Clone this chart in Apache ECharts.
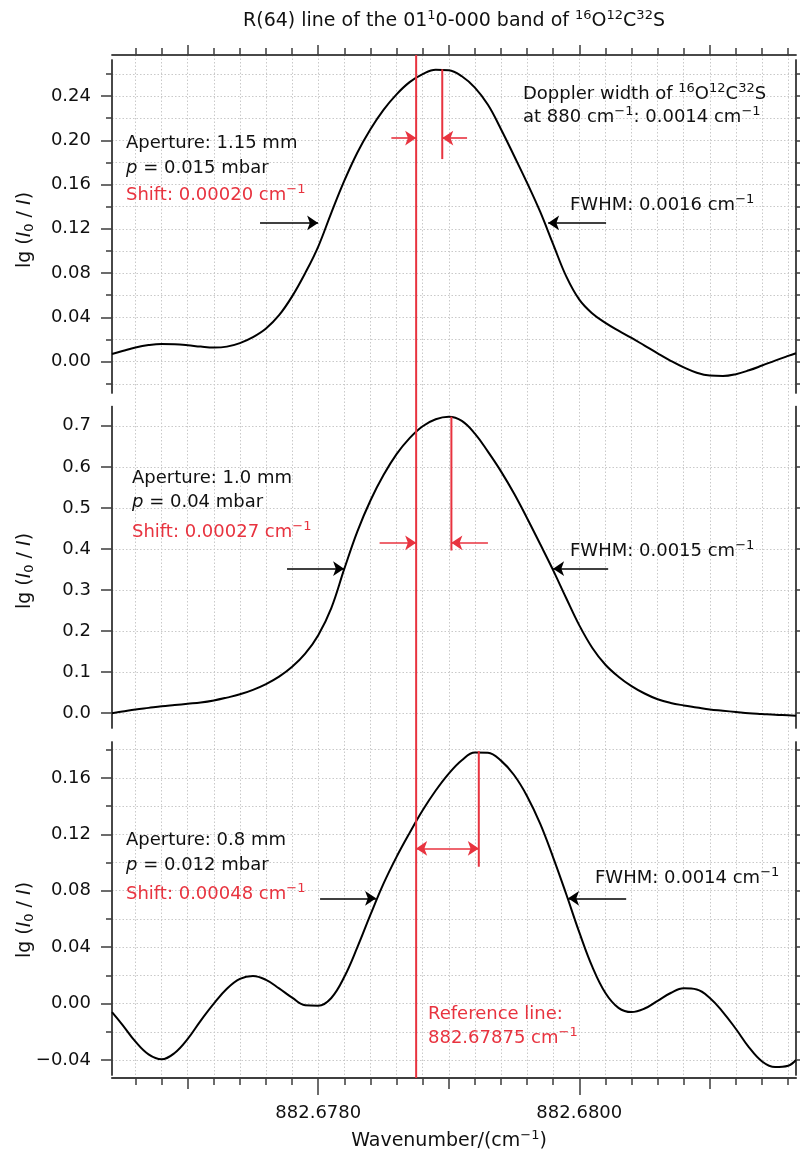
<!DOCTYPE html>
<html>
<head>
<meta charset="utf-8">
<script src="https://cdn.jsdelivr.net/npm/echarts@6/dist/echarts.min.js"></script>
<style>
  html, body { margin: 0; padding: 0; background: #fff; }
  #chart { width: 800px; height: 1153px; }
</style>
</head>
<body>
<div id="chart"></div>
<script>
// ---- wavenumber scale (cm^-1) ----
const xMin = 882.67642;
const xMax = 882.68166;
const xLabelTicks = [882.6780, 882.6800];
const xMidTicks = [882.677, 882.678, 882.679, 882.680, 882.681];

// sample positions shared by the three spectra
const wavenumbers = [
  882.67642, 882.6765, 882.6766, 882.6767, 882.6768, 882.6769, 882.6770, 882.6771, 882.6772, 882.6773,
  882.6774, 882.6775, 882.6776, 882.6777, 882.6778, 882.6779, 882.6780, 882.6781, 882.6782, 882.6783,
  882.6784, 882.6785, 882.6786, 882.6787, 882.6788, 882.6789, 882.6790, 882.6791, 882.6792, 882.6793,
  882.6794, 882.6795, 882.6796, 882.6797, 882.6798, 882.6799, 882.6800, 882.6801, 882.6802, 882.6803,
  882.6804, 882.6805, 882.6806, 882.6807, 882.6808, 882.6809, 882.6810, 882.6811, 882.6812, 882.6813,
  882.6814, 882.6815, 882.6816, 882.68166
];

// lg(I0/I), aperture 1.15 mm
const absorbance1 = [
  0.0070, 0.0096, 0.0128, 0.0150, 0.0160, 0.0157, 0.0148, 0.0136, 0.0128, 0.0136,
  0.0168, 0.0222, 0.0300, 0.0420, 0.0590, 0.0800, 0.1040, 0.1345, 0.1635, 0.1890,
  0.2100, 0.2275, 0.2415, 0.2525, 0.2598, 0.2637, 0.2633, 0.2578, 0.2475, 0.2320,
  0.2100, 0.1860, 0.1615, 0.1355, 0.1060, 0.0770, 0.0560, 0.0435, 0.0350, 0.0280,
  0.0215, 0.0145, 0.0075, 0.0008, -0.0052, -0.0100, -0.0126, -0.0130, -0.0113, -0.0078,
  -0.0035, 0.0010, 0.0052, 0.0076
];
// lg(I0/I), aperture 1.0 mm
const absorbance2 = [
  0.000, 0.004, 0.009, 0.013, 0.017, 0.020, 0.023, 0.026, 0.031, 0.038,
  0.046, 0.057, 0.071, 0.089, 0.113, 0.145, 0.190, 0.256, 0.352, 0.443,
  0.518, 0.580, 0.631, 0.670, 0.699, 0.716, 0.722, 0.712, 0.681, 0.637,
  0.589, 0.535, 0.475, 0.412, 0.348, 0.280, 0.214, 0.159, 0.118, 0.089,
  0.066, 0.048, 0.034, 0.025, 0.019, 0.014, 0.009, 0.006, 0.003, 0.000,
  -0.002, -0.004, -0.005, -0.006
];
// lg(I0/I), aperture 0.8 mm
const absorbance3 = [
  -0.0060, -0.0150, -0.0270, -0.0360, -0.0395, -0.0350, -0.0250, -0.0120, 0.0000, 0.0105,
  0.0175, 0.0195, 0.0168, 0.0108, 0.0042, -0.0012, -0.0015, 0.0040, 0.0190, 0.0400,
  0.0630, 0.0850, 0.1040, 0.1210, 0.1370, 0.1510, 0.1630, 0.1725, 0.1780, 0.1778,
  0.1722, 0.1620, 0.1470, 0.1275, 0.1035, 0.0775, 0.0505, 0.0260, 0.0075, -0.0030,
  -0.0060, -0.0035, 0.0020, 0.0075, 0.0108, 0.0100, 0.0040, -0.0060, -0.0180, -0.0310,
  -0.0410, -0.0450, -0.0440, -0.0400
];

// ---- per-panel y scales ----
const yRanges = [[-0.0283, 0.2725], [-0.036, 0.747], [-0.0506, 0.1854]];
const yLabelTicks1 = [0.00, 0.04, 0.08, 0.12, 0.16, 0.20, 0.24];
const yMinorTicks1 = [-0.02, 0.00, 0.02, 0.04, 0.06, 0.08, 0.10, 0.12, 0.14, 0.16, 0.18, 0.20, 0.22, 0.24, 0.26];
const yLabelTicks2 = [0.0, 0.1, 0.2, 0.3, 0.4, 0.5, 0.6, 0.7];
const yLabelTicks3 = [-0.04, 0.00, 0.04, 0.08, 0.12, 0.16];
const yMinorTicks3 = [-0.04, -0.02, 0.00, 0.02, 0.04, 0.06, 0.08, 0.10, 0.12, 0.14, 0.16, 0.18];

// ---- measurement annotations ----
const refLine = 882.67875;
const shifts = [0.00020, 0.00027, 0.00048];
const fwhm = [0.0016, 0.0015, 0.0014];
const apertures = ['1.15', '1.0', '0.8'];
const pressures = ['0.015', '0.04', '0.012'];
const peakTop = [0.2641, 0.722, 0.179];
const peakLineLow = [0.183, 0.396, 0.097];
// FWHM arrows: [from, to, level] in wavenumber / lg units
const fwhmArrows = [
  [[882.677554, 882.677999, 0.1253], [882.680205, 882.679761, 0.1253]],
  [[882.677761, 882.678198, 0.352], [882.680221, 882.679799, 0.352]],
  [[882.678014, 882.678443, 0.0746], [882.680359, 882.679914, 0.0746]]
];
// shift arrows: level and arrow length
const shiftArrowLevel = [0.202, 0.415, 0.110];
const shiftArrowLen = [0.00019, 0.00028, 0];

const FONT = 'DejaVu Sans';
const RED = '#e8333f';
const AXIS = '#3c3c3c';
const INK = '#111111';
const GRIDLINE = { color: '#c9c9c9', width: 1, type: [1.5, 2] };

let xMinorTicks = [];
for (let k = 0; k <= 30; k++) {
  const v = Math.round((882.6764 + k * 0.0002) * 1e4) / 1e4;
  if (v > xMin && v < xMax) xMinorTicks.push(v);
}

const grids = [
  { left: 112, width: 684, top: 60, height: 333 },
  { left: 112, width: 684, top: 406.5, height: 321.5 },
  { left: 112, width: 684, top: 742, height: 333 },
  { left: 112, width: 684, top: 55, height: 1023 }
];

function axisLine() { return { show: true, onZero: false, lineStyle: { color: AXIS, width: 1.5 } }; }

function frameX(position, ticks, len, extra) {
  return Object.assign({
    type: 'value', gridIndex: 3, position: position, min: xMin, max: xMax,
    axisLine: axisLine(),
    axisTick: { show: true, customValues: ticks, length: len, lineStyle: { color: AXIS, width: 1.5 } },
    axisLabel: { show: false },
    splitLine: { show: false }
  }, extra || {});
}

const xAxes = [
  frameX('top', xMinorTicks, 7, { splitLine: { show: true, lineStyle: GRIDLINE } }),
  frameX('top', xMidTicks, 10),
  frameX('bottom', xMinorTicks, 7),
  frameX('bottom', xMidTicks, 11),
  frameX('bottom', xLabelTicks, 17, {
    axisLabel: {
      show: true, customValues: xLabelTicks, margin: 26,
      fontFamily: FONT, fontSize: 18, color: INK,
      formatter: v => v.toFixed(4)
    }
  })
];
for (let p = 0; p < 3; p++) {
  xAxes.push({ type: 'value', gridIndex: p, min: xMin, max: xMax, show: false });
}

function fmtY(digits) {
  return v => v.toFixed(digits).replace('-', '\u2212');
}

function panelY(p, minor, major, digits) {
  const [lo, hi] = yRanges[p];
  const base = { type: 'value', gridIndex: p, min: lo, max: hi, axisLine: axisLine(), splitLine: { show: false } };
  const tick = (vals, len) => ({ show: true, customValues: vals, length: len, lineStyle: { color: AXIS, width: 1.5 } });
  return [
    Object.assign({}, base, { position: 'left', axisTick: tick(minor, 6), axisLabel: { show: false },
      splitLine: { show: true, lineStyle: GRIDLINE } }),
    Object.assign({}, base, { position: 'left', axisTick: tick(major, 11),
      axisLabel: { show: true, customValues: major, margin: 21, fontFamily: FONT, fontSize: 18, color: INK, formatter: fmtY(digits) } }),
    Object.assign({}, base, { position: 'right', axisTick: tick(minor, 6), axisLabel: { show: false } }),
    Object.assign({}, base, { position: 'right', axisTick: tick(major, 11), axisLabel: { show: false } })
  ];
}

const yAxes = [{ type: 'value', gridIndex: 3, min: 0, max: 1, show: false }]
  .concat(panelY(0, yMinorTicks1, yLabelTicks1, 2))
  .concat(panelY(1, yLabelTicks2, yLabelTicks2, 1))
  .concat(panelY(2, yMinorTicks3, yLabelTicks3, 2));

const spectra = [absorbance1, absorbance2, absorbance3];
const series = [];

// reference line through all panels
series.push({
  type: 'line', xAxisIndex: 0, yAxisIndex: 0, silent: true, symbol: 'none', z: 5,
  lineStyle: { color: RED, width: 2 },
  data: [[refLine, 0], [refLine, 1]]
});

for (let p = 0; p < 3; p++) {
  const xi = 5 + p, yi = 1 + 4 * p;
  const peakX = refLine + shifts[p];
  series.push({
    type: 'line', xAxisIndex: xi, yAxisIndex: yi, silent: true, symbol: 'none', smooth: 0.4, z: 4,
    lineStyle: { color: '#000', width: 2 },
    data: wavenumbers.map((w, i) => [w, spectra[p][i]]),
    markLine: {
      silent: true, animation: false, symbol: ['none', 'arrow'], symbolSize: 11,
      lineStyle: { color: '#000', width: 1.6, type: 'solid' }, label: { show: false },
      data: fwhmArrows[p].map(a => [{ coord: [a[0], a[2]] }, { coord: [a[1], a[2]] }])
    }
  });
  const lvl = shiftArrowLevel[p];
  const len = shiftArrowLen[p];
  const redArrows = len > 0
    ? [[{ coord: [refLine - len, lvl] }, { coord: [refLine, lvl] }],
       [{ coord: [peakX + len, lvl] }, { coord: [peakX, lvl] }]]
    : [[{ coord: [refLine, lvl], symbol: 'arrow' }, { coord: [peakX, lvl] }]];
  series.push({
    type: 'line', xAxisIndex: xi, yAxisIndex: yi, silent: true, symbol: 'none', z: 6,
    lineStyle: { color: RED, width: 2 },
    data: [[peakX, peakTop[p]], [peakX, peakLineLow[p]]],
    markLine: {
      silent: true, animation: false, symbol: ['none', 'arrow'], symbolSize: 11,
      lineStyle: { color: RED, width: 1.6, type: 'solid' }, label: { show: false },
      data: redArrows
    }
  });
}

// ---- text ----
function richFor(size) {
  const small = Math.round(size * 0.7);
  return {
    sup: { fontFamily: FONT, fontSize: small, padding: [0, 0, Math.round(size * 0.6), 0] },
    sub: { fontFamily: FONT, fontSize: small, padding: [Math.round(size * 0.5), 0, 0, 0] },
    i: { fontFamily: FONT, fontSize: size, fontStyle: 'italic' }
  };
}
function txt(x, y, text, opt) {
  opt = opt || {};
  const size = (opt.style && opt.style.fontSize) || 18;
  return {
    type: 'text', x: x, y: y, z: 100, silent: true,
    rotation: opt.rotation || 0,
    style: Object.assign({
      text: text, fill: INK, fontFamily: FONT, fontSize: size,
      align: 'left', verticalAlign: 'middle', rich: richFor(size)
    }, opt.style || {})
  };
}
const M = '\u2212';
const textBlocks = [
  [126, 143, 168, 195],
  [132, 478, 502, 532],
  [126, 840, 865, 894]
];
const fwhmPos = [[570, 205], [570, 551], [595, 878]];
const yNamePos = [230, 571, 920];

const graphics = [
  txt(454, 21, 'R(64) line of the 01{sup|1}0-000 band of {sup|16}O{sup|12}C{sup|32}S', { style: { align: 'center', fontSize: 19 } }),
  txt(523, 94, 'Doppler width of {sup|16}O{sup|12}C{sup|32}S'),
  txt(523, 117, 'at 880 cm{sup|' + M + '1}: 0.0014 cm{sup|' + M + '1}'),
  txt(428, 1014, 'Reference line:', { style: { fill: RED } }),
  txt(428, 1038, refLine.toFixed(5) + ' cm{sup|' + M + '1}', { style: { fill: RED } }),
  txt(449, 1141, 'Wavenumber/(cm{sup|' + M + '1})', { style: { align: 'center', fontSize: 19 } })
];
for (let p = 0; p < 3; p++) {
  const [tx, y1, y2, y3] = textBlocks[p];
  graphics.push(txt(tx, y1, 'Aperture: ' + apertures[p] + ' mm'));
  graphics.push(txt(tx, y2, '{i|p} = ' + pressures[p] + ' mbar'));
  graphics.push(txt(tx, y3, 'Shift: ' + shifts[p].toFixed(5) + ' cm{sup|' + M + '1}', { style: { fill: RED } }));
  graphics.push(txt(fwhmPos[p][0], fwhmPos[p][1], 'FWHM: ' + fwhm[p].toFixed(4) + ' cm{sup|' + M + '1}'));
  graphics.push(txt(25, yNamePos[p], 'lg ({i|I}{sub|0} / {i|I})', { rotation: Math.PI / 2, style: { align: 'center', fontSize: 19 } }));
}

const chart = echarts.init(document.getElementById('chart'), null, { renderer: 'canvas', width: 800, height: 1153 });
chart.setOption({
  animation: false,
  backgroundColor: '#fff',
  textStyle: { fontFamily: FONT },
  grid: grids.map(g => Object.assign({ outerBoundsMode: 'none', containLabel: false }, g)),
  xAxis: xAxes,
  yAxis: yAxes,
  series: series,
  graphic: graphics
});
</script>
</body>
</html>
